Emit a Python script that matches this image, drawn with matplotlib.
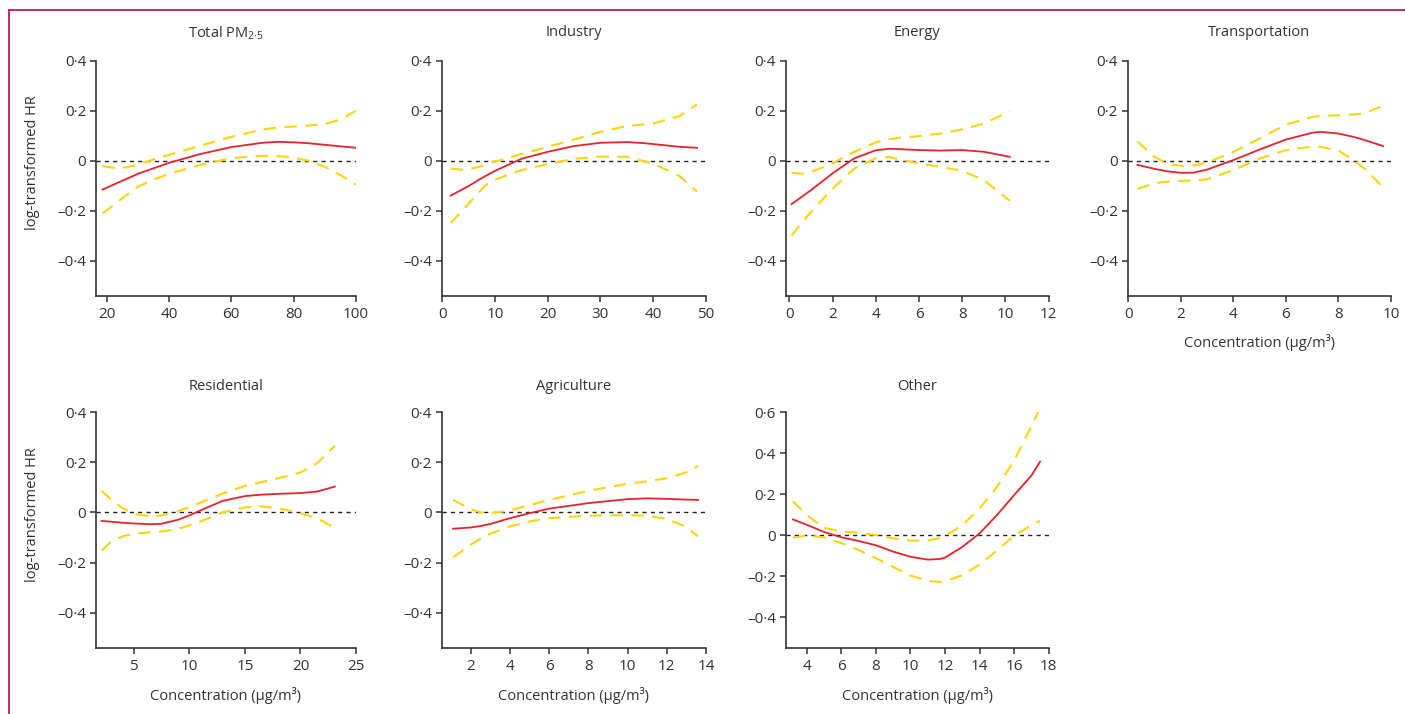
import matplotlib
matplotlib.use("Agg")
import matplotlib.pyplot as plt
from matplotlib.lines import Line2D

plt.rcParams['font.family'] = ['Open Sans', 'DejaVu Sans']
plt.rcParams['mathtext.fontset'] = 'custom'
plt.rcParams['mathtext.rm'] = 'Open Sans'

# ---------------- data ----------------
titles = ["Total PM$_{\\mathregular{2·5}}$", "Industry", "Energy", "Transportation",
          "Residential", "Agriculture", "Other"]

# Total PM2.5
total_x = [18.7, 24, 28.6, 30, 35, 40.3, 50, 60, 70, 75, 80, 85, 90, 95, 100]
total_est = [-0.115, -0.085, -0.06, -0.052, -0.03, -0.007, 0.027, 0.055, 0.072, 0.076, 0.074, 0.07, 0.064, 0.058, 0.052]
total_up = [-0.021, -0.031, -0.02, -0.015, 0.005, 0.025, 0.06, 0.096, 0.125, 0.133, 0.137, 0.141, 0.147, 0.165, 0.2]
total_lo = [-0.21, -0.16, -0.115, -0.104, -0.075, -0.051, -0.017, 0.011, 0.02, 0.019, 0.012, 0.0, -0.024, -0.057, -0.095]

# Industry
ind_x = [1.6, 4, 5, 7, 8, 10, 15, 20, 25, 30, 35, 38, 40, 45, 48.3]
ind_est = [-0.139, -0.112, -0.101, -0.075, -0.063, -0.04, 0.008, 0.036, 0.059, 0.072, 0.075, 0.071, 0.067, 0.056, 0.052]
ind_up = [-0.031, -0.036, -0.034, -0.024, -0.016, -0.003, 0.027, 0.056, 0.085, 0.116, 0.139, 0.145, 0.149, 0.179, 0.225]
ind_lo = [-0.248, -0.195, -0.171, -0.125, -0.101, -0.075, -0.037, -0.013, 0.008, 0.017, 0.016, 0.0, -0.011, -0.061, -0.123]

# Energy
en_x = [0.1, 0.6, 1, 2, 3, 4, 4.6, 5, 6, 7, 8, 9, 10.2]
en_est = [-0.173, -0.142, -0.117, -0.05, 0.01, 0.042, 0.048, 0.047, 0.043, 0.041, 0.043, 0.036, 0.016]
en_up = [-0.048, -0.051, -0.045, -0.01, 0.036, 0.074, 0.086, 0.091, 0.099, 0.109, 0.126, 0.148, 0.199]
en_lo = [-0.299, -0.245, -0.204, -0.111, -0.031, 0.01, 0.015, 0.008, -0.011, -0.024, -0.04, -0.077, -0.16]

# Transportation
tr_x = [0.35, 1, 1.5, 2, 2.5, 3, 4, 5, 6, 7, 7.3, 8, 8.6, 9, 9.7]
tr_est = [-0.016, -0.032, -0.042, -0.048, -0.047, -0.035, 0.003, 0.045, 0.085, 0.112, 0.116, 0.109, 0.095, 0.083, 0.059]
tr_up = [0.077, 0.016, -0.012, -0.02, -0.018, -0.007, 0.036, 0.089, 0.145, 0.175, 0.179, 0.182, 0.185, 0.19, 0.22]
tr_lo = [-0.112, -0.09, -0.083, -0.08, -0.079, -0.074, -0.037, 0.009, 0.043, 0.057, 0.056, 0.042, 0.0, -0.031, -0.107]

# Residential
res_x = [2.1, 3, 4, 5, 6.5, 7.5, 9, 10, 11, 13, 15, 16.5, 18, 20, 21.5, 23.1]
res_est = [-0.034, -0.037, -0.041, -0.044, -0.047, -0.045, -0.029, -0.012, 0.008, 0.046, 0.065, 0.071, 0.074, 0.077, 0.083, 0.103]
res_up = [0.086, 0.05, 0.017, -0.005, -0.016, -0.012, 0.005, 0.021, 0.039, 0.075, 0.106, 0.121, 0.136, 0.159, 0.196, 0.266]
res_lo = [-0.152, -0.115, -0.095, -0.085, -0.079, -0.076, -0.065, -0.052, -0.036, 0.0, 0.02, 0.024, 0.016, -0.003, -0.023, -0.062]

# Agriculture
ag_x = [1.1, 2, 2.5, 3, 4, 5, 6, 8, 10, 11, 12, 13, 13.6]
ag_est = [-0.065, -0.06, -0.054, -0.046, -0.023, -0.003, 0.015, 0.037, 0.053, 0.056, 0.054, 0.051, 0.05]
ag_up = [0.05, 0.013, 0.0, -0.004, 0.008, 0.029, 0.05, 0.086, 0.114, 0.124, 0.136, 0.16, 0.185]
ag_lo = [-0.179, -0.128, -0.105, -0.085, -0.056, -0.036, -0.023, -0.013, -0.011, -0.013, -0.026, -0.058, -0.095]

# Other
oth_x = [3.2, 4, 5, 6, 7, 8, 9, 10, 11, 11.7, 12, 13, 14, 15, 16, 17, 17.5]
oth_est = [0.076, 0.05, 0.015, -0.011, -0.029, -0.05, -0.081, -0.106, -0.12, -0.117, -0.11, -0.058, 0.008, 0.097, 0.195, 0.29, 0.358]
oth_up = [0.165, 0.097, 0.035, 0.018, 0.011, 0.0, -0.016, -0.027, -0.027, -0.015, -0.005, 0.048, 0.129, 0.234, 0.363, 0.532, 0.62]
oth_lo = [-0.013, -0.002, -0.011, -0.04, -0.073, -0.113, -0.156, -0.198, -0.223, -0.229, -0.226, -0.196, -0.144, -0.076, -0.003, 0.048, 0.069]

series = [
    (total_x, total_est, total_up, total_lo),
    (ind_x, ind_est, ind_up, ind_lo),
    (en_x, en_est, en_up, en_lo),
    (tr_x, tr_est, tr_up, tr_lo),
    (res_x, res_est, res_up, res_lo),
    (ag_x, ag_est, ag_up, ag_lo),
    (oth_x, oth_est, oth_up, oth_lo),
]

xticks = [[20, 40, 60, 80, 100], [0, 10, 20, 30, 40, 50], [0, 2, 4, 6, 8, 10, 12],
          [0, 2, 4, 6, 8, 10], [5, 10, 15, 20, 25], [2, 4, 6, 8, 10, 12, 14],
          [4, 6, 8, 10, 12, 14, 16, 18]]
xlims = [(16.6, 100), (-0.1, 50), (-0.17, 12), (-0.02, 10), (1.6, 25), (0.52, 14), (2.78, 18)]

yticks_std = [0.4, 0.2, 0.0, -0.2, -0.4]
yticklabels_std = ["0·4", "0·2", "0", "–0·2", "–0·4"]
yticks_oth = [0.6, 0.4, 0.2, 0.0, -0.2, -0.4]
yticklabels_oth = ["0·6", "0·4", "0·2", "0", "–0·2", "–0·4"]

xlabel_text = "Concentration (μg/m³)"
ylabel_text = "log-transformed HR"

# ---------------- layout ----------------
W, H = 1405, 714
fig = plt.figure(figsize=(W / 100, H / 100), dpi=100)

col_left = [96, 441.7, 785.7, 1127.7]
col_right = [356, 706, 1048.7, 1391]
row_top = [60.7, 412]
row_bot = [296, 648]

RED = '#e8222b'
YEL = '#fbd50a'
SPINE = '#333333'
TXT = '#333333'

positions = [(0, 0), (0, 1), (0, 2), (0, 3), (1, 0), (1, 1), (1, 2)]
title_y = [33, 386]
xlabel_y = [342, 695]
show_xlabel = [False, False, False, True, True, True, True]

for i, (r, c) in enumerate(positions):
    l = col_left[c] / W
    w = (col_right[c] - col_left[c]) / W
    b = 1 - row_bot[r] / H
    h = (row_bot[r] - row_top[r]) / H
    ax = fig.add_axes([l, b, w, h])
    x, est, up, lo = series[i]
    ax.axhline(0, color='#222222', lw=1.0, ls=(0, (3, 3)), zorder=1)
    ax.plot(x, up, color=YEL, lw=1.5, ls=(0, (6, 4)), zorder=2)
    ax.plot(x, lo, color=YEL, lw=1.5, ls=(0, (6, 4)), zorder=2)
    ax.plot(x, est, color=RED, lw=1.3, zorder=3)
    ax.set_xlim(*xlims[i])
    ax.set_xticks(xticks[i])
    ax.set_xticklabels([str(t) for t in xticks[i]])
    if i == 6:
        ax.set_ylim(-0.551, 0.6)
        ax.set_yticks(yticks_oth)
        ax.set_yticklabels(yticklabels_oth)
    else:
        ax.set_ylim(-0.54, 0.4)
        ax.set_yticks(yticks_std)
        ax.set_yticklabels(yticklabels_std)
    for s in ['top', 'right']:
        ax.spines[s].set_visible(False)
    for s in ['left', 'bottom']:
        ax.spines[s].set_color(SPINE)
        ax.spines[s].set_linewidth(1.2)
    ax.tick_params(axis='both', direction='out', length=4, width=1.1, color=SPINE,
                   labelsize=11, labelcolor=TXT)
    ax.tick_params(axis='x', pad=4)
    ax.tick_params(axis='y', pad=3)
    ax.patch.set_visible(False)
    xc = (col_left[c] + col_right[c]) / 2 / W
    fig.text(xc, 1 - title_y[r] / H, titles[i], ha='center', va='center',
             fontsize=10.5, color=TXT)
    if show_xlabel[i]:
        fig.text(xc, 1 - xlabel_y[r] / H, xlabel_text, ha='center', va='center',
                 fontsize=10.5, color=TXT)

fig.text(33 / W, 1 - 163 / H, ylabel_text, rotation=90, ha='center', va='center',
         fontsize=10.5, color=TXT)
fig.text(33 / W, 1 - 515 / H, ylabel_text, rotation=90, ha='center', va='center',
         fontsize=10.5, color=TXT)

# page frame (top and left rule)
BORDER = '#c8174e'
fig.add_artist(Line2D([9 / W, 1.0], [1 - 10 / H, 1 - 10 / H], transform=fig.transFigure,
                      color=BORDER, lw=1.3))
fig.add_artist(Line2D([9 / W, 9 / W], [0.0, 1 - 10 / H], transform=fig.transFigure,
                      color=BORDER, lw=1.3))

fig.savefig("out.png", dpi=100)
